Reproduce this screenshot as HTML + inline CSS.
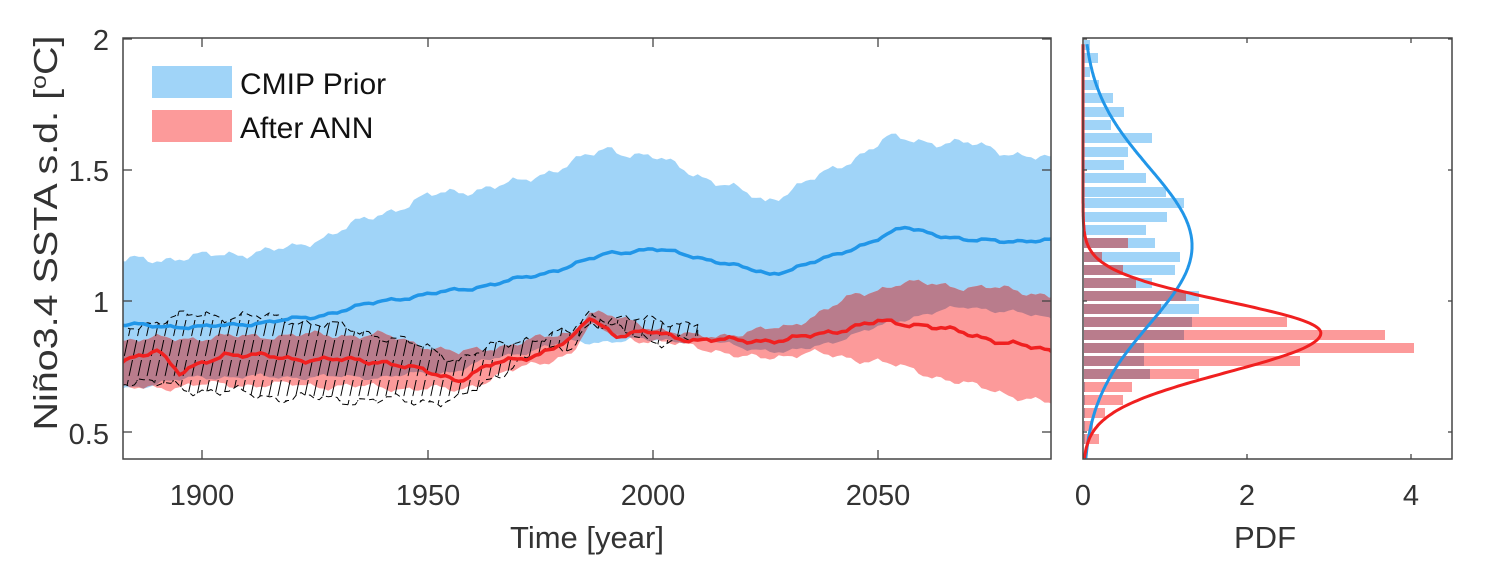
<!DOCTYPE html>
<html><head><meta charset="utf-8">
<style>
html,body{margin:0;padding:0;background:#fff;}
svg{display:block;font-family:"Liberation Sans",sans-serif;}
</style></head>
<body>
<svg id="s" width="1500" height="564" viewBox="0 0 1500 564" xmlns="http://www.w3.org/2000/svg">
<defs>
<clipPath id="mainclip"><rect x="123" y="38" width="928" height="421"/></clipPath>
<clipPath id="blueclip"><path id="bcp" d=""/></clipPath>
<pattern id="hatch" patternUnits="userSpaceOnUse" width="9" height="40" patternTransform="skewX(-12)">
<line x1="2" y1="0" x2="2" y2="40" stroke="#000" stroke-width="1" stroke-dasharray="16,4"/>
</pattern>
</defs>
<g clip-path="url(#mainclip)">
<path id="blueband" fill="#a0d4f8"/>
<path id="redband" fill="#fc9a9a"/>
<path id="redover" fill="#b97c8c" clip-path="url(#blueclip)"/>
<path id="hatchp" fill="url(#hatch)" stroke="#000" stroke-width="1" stroke-dasharray="6,4"/>
<path id="bluemean" fill="none" stroke="#2196e8" stroke-width="3.5"/>
<path id="redmean" fill="none" stroke="#f02020" stroke-width="3.5"/>
</g>
<g id="hist"></g>
<path id="bpdf" fill="none" stroke="#2196e8" stroke-width="3"/>
<path id="rpdf" fill="none" stroke="#f02020" stroke-width="3"/>
<rect x="123" y="38" width="928" height="421" fill="none" stroke="#444" stroke-width="1.5"/>
<rect x="1083" y="38" width="369" height="421" fill="none" stroke="#444" stroke-width="1.5"/>
<g id="ticks" stroke="#444" stroke-width="1.3"></g>
<g font-size="29" fill="#333">
<text x="109" y="50" text-anchor="end">2</text>
<text x="109" y="181" text-anchor="end">1.5</text>
<text x="109" y="312" text-anchor="end">1</text>
<text x="109" y="444" text-anchor="end">0.5</text>
<text x="202" y="505" text-anchor="middle">1900</text>
<text x="428" y="505" text-anchor="middle">1950</text>
<text x="653" y="505" text-anchor="middle">2000</text>
<text x="878" y="505" text-anchor="middle">2050</text>
<text x="1083" y="505" text-anchor="middle">0</text>
<text x="1247" y="505" text-anchor="middle">2</text>
<text x="1411" y="505" text-anchor="middle">4</text>
</g>
<g font-size="31" fill="#333">
<text x="587" y="548" text-anchor="middle">Time [year]</text>
<text x="1265" y="548" text-anchor="middle">PDF</text>
<text transform="translate(57,233) rotate(-90)" text-anchor="middle" font-size="33" textLength="395" lengthAdjust="spacingAndGlyphs">Niño3.4 SSTA s.d. [<tspan baseline-shift="super" font-size="21">o</tspan>C]</text>
</g>
<rect x="152" y="66" width="80" height="32" fill="#a0d4f8"/>
<text x="240" y="94" font-size="30" fill="#111">CMIP Prior</text>
<rect x="152" y="110" width="80" height="32" fill="#fc9a9a"/>
<text x="240" y="138" font-size="30" fill="#111">After ANN</text>
</svg>
<script>
function X(yr){return 202+(yr-1900)*4.506;}
function Y(v){return 301-(v-1)*262;}
function interp(pts,yr){for(var i=0;i<pts.length-1;i++){if(yr>=pts[i][0]&&yr<=pts[i+1][0]){var t=(yr-pts[i][0])/(pts[i+1][0]-pts[i][0]);return pts[i][1]+t*(pts[i+1][1]-pts[i][1]);}}return pts[yr<pts[0][0]?0:pts.length-1][1];}
function noise(yr,a,s){return a*(Math.sin(yr*0.9+s)*0.4+Math.sin(yr*0.37+s*2)*0.4+Math.sin(yr*2.3+s*3)*0.2);}
function line(pts,a,s,y0,y1){var d="";for(var yr=y0;yr<=y1;yr+=1){var v=interp(pts,yr)+noise(yr,a,s);d+=(d?"L":"M")+X(yr).toFixed(1)+","+Y(v).toFixed(1);}return d;}
function arr(pts,a,s,y0,y1){var r=[];for(var yr=y0;yr<=y1;yr+=1){r.push([X(yr),Y(interp(pts,yr)+noise(yr,a,s))]);}return r;}
function band(up,lo){var d="M"+up.map(p=>p[0].toFixed(1)+","+p[1].toFixed(1)).join("L");var l=lo.slice().reverse();d+="L"+l.map(p=>p[0].toFixed(1)+","+p[1].toFixed(1)).join("L")+"Z";return d;}
var Y0=1880,Y1=2090;
var bu=[[1880,1.15],[1900,1.17],[1920,1.2],[1935,1.3],[1950,1.4],[1970,1.45],[1990,1.58],[2000,1.55],[2015,1.45],[2025,1.38],[2040,1.5],[2052,1.62],[2070,1.6],[2090,1.53]];
var bl=[[1880,0.66],[1900,0.71],[1920,0.71],[1940,0.71],[1955,0.73],[1965,0.78],[1980,0.84],[1995,0.85],[2010,0.85],[2030,0.8],[2045,0.87],[2055,0.93],[2070,0.98],[2090,0.93]];
var bm=[[1880,0.91],[1900,0.9],[1915,0.92],[1925,0.94],[1940,1.0],[1960,1.05],[1975,1.1],[1990,1.18],[2000,1.2],[2015,1.15],[2026,1.1],[2040,1.17],[2056,1.28],[2070,1.23],[2090,1.23]];
var ru=[[1880,0.85],[1900,0.86],[1920,0.87],[1940,0.87],[1957,0.8],[1970,0.84],[1982,0.88],[1986,0.96],[2000,0.9],[2010,0.86],[2030,0.9],[2045,1.02],[2055,1.07],[2075,1.05],[2090,1.02]];
var rl=[[1880,0.66],[1900,0.68],[1920,0.68],[1940,0.67],[1957,0.66],[1970,0.74],[1982,0.8],[1986,0.9],[2000,0.84],[2010,0.83],[2020,0.78],[2035,0.8],[2050,0.77],[2070,0.68],[2090,0.6]];
var rm=[[1880,0.75],[1890,0.82],[1895,0.72],[1905,0.8],[1920,0.78],[1940,0.77],[1957,0.7],[1965,0.76],[1975,0.8],[1982,0.85],[1986,0.94],[1992,0.87],[2000,0.88],[2010,0.85],[2030,0.85],[2050,0.92],[2060,0.91],[2090,0.8]];
var hu=[[1882,0.9],[1900,0.95],[1920,0.93],[1940,0.87],[1957,0.78],[1970,0.85],[1982,0.88],[1986,0.95],[2000,0.92],[2010,0.92]];
var hl=[[1882,0.7],[1900,0.66],[1920,0.63],[1940,0.62],[1957,0.62],[1970,0.77],[1982,0.83],[1986,0.92],[2000,0.85],[2010,0.85]];
var bb=band(arr(bu,0.025,1,Y0,Y1),arr(bl,0.015,2,Y0,Y1));
document.getElementById("blueband").setAttribute("d",bb);
document.getElementById("bcp").setAttribute("d",bb);
var rb=band(arr(ru,0.02,3,Y0,Y1),arr(rl,0.02,4,Y0,Y1));
document.getElementById("redband").setAttribute("d",rb);
document.getElementById("redover").setAttribute("d",rb);
document.getElementById("hatchp").setAttribute("d",band(arr(hu,0.03,5,1882,2010),arr(hl,0.03,6,1882,2010)));
document.getElementById("bluemean").setAttribute("d",line(bm,0.01,7,Y0,Y1));
document.getElementById("redmean").setAttribute("d",line(rm,0.015,8,Y0,Y1));
var rows=[[40,1090,0],[53,1098,0],[67,1090,0],[80,1099,0],[93,1113,0],[107,1124,0],[120,1111,0],[133,1152,0],[147,1128,0],[160,1124,0],[173,1146,0],[187,1166,0],[198,1184,0],[212,1167,0],[225,1146,0],[238,1155,1128],[252,1180,1102],[265,1175,1123],[278,1152,1136],[291,1199,1186],[304,1199,1161],[317,1192,1287],[330,1184,1385],[343,1144,1414],[356,1144,1300],[369,1150,1199],[382,1085,1132],[395,1085,1123],[408,1085,1105],[421,1085,1093],[434,1085,1099]];
var h="";var x0=1084;
rows.forEach(function(r){var y=r[0],b=r[1],rd=r[2];
 if(b>x0)h+='<rect x="'+x0+'" y="'+y+'" width="'+(b-x0)+'" height="10" fill="#a0d4f8"/>';
 if(rd>x0)h+='<rect x="'+x0+'" y="'+y+'" width="'+(rd-x0)+'" height="10" fill="#fc9a9a"/>';
 var m=Math.min(b,rd);if(m>x0)h+='<rect x="'+x0+'" y="'+y+'" width="'+(m-x0)+'" height="10" fill="#b97c8c"/>';});
document.getElementById("hist").innerHTML=h;
function PX(p){return 1083+p*82;}
function pdf(mu,sd,v){return Math.exp(-0.5*((v-mu)/sd)*((v-mu)/sd))/(sd*2.5066);}
var d1="",d2="";
for(var v=0.4;v<=1.98;v+=0.005){var y=Y(v).toFixed(1);
 d1+=(d1?"L":"M")+PX(pdf(1.21,0.3,v)).toFixed(1)+","+y;
 var sd=v<0.878?0.15:0.12;var p=Math.exp(-0.5*((v-0.878)/sd)*((v-0.878)/sd))*2.9;
 d2+=(d2?"L":"M")+PX(p).toFixed(1)+","+y;}
document.getElementById("bpdf").setAttribute("d",d1);
document.getElementById("rpdf").setAttribute("d",d2);
var t="";
[39,170,301,432].forEach(function(y){t+='<line x1="123" y1="'+y+'" x2="132" y2="'+y+'"/><line x1="1051" y1="'+y+'" x2="1042" y2="'+y+'"/><line x1="1083" y1="'+y+'" x2="1087" y2="'+y+'"/><line x1="1452" y1="'+y+'" x2="1448" y2="'+y+'"/>';});
[202,428,653,878].forEach(function(x){t+='<line x1="'+x+'" y1="459" x2="'+x+'" y2="450"/><line x1="'+x+'" y1="38" x2="'+x+'" y2="47"/>';});
[1247,1411].forEach(function(x){t+='<line x1="'+x+'" y1="459" x2="'+x+'" y2="454"/><line x1="'+x+'" y1="38" x2="'+x+'" y2="43"/>';});
document.getElementById("ticks").innerHTML=t;
</script>
</body></html>
